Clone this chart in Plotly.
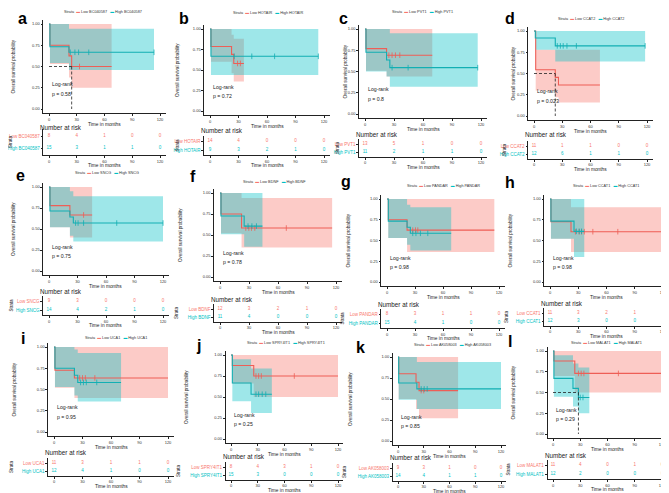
import plotly.graph_objects as go

# ---------------- data ----------------
LETTERS = ["a", "b", "c", "d", "e", "f", "g", "h", "i", "j", "k", "l"]
GENES = ["BC040587", "HOTAIR", "PVT1", "CCAT2", "SNCG", "BDNF", "PANDAR", "CCAT1",
         "UCA1", "SPRY4IT1", "AK058003", "MALAT1"]
PVALUES = ["0.58", "0.72", "0.8", "0.023", "0.75", "0.78", "0.98", "0.98",
           "0.95", "0.25", "0.85", "0.29"]
X_TICKS = [0, 30, 60, 90, 120]
Y_TICKS = [0, 0.25, 0.5, 0.75, 1.0]
Y_TICK_TEXT = ["0.00", "0.25", "0.50", "0.75", "1.00"]
RISK_TIMES = [0, 30, 60, 90, 120]

# a BC040587
a_low_time = [0, 1, 21.6, 24.5]; a_low_surv = [1, 0.75, 0.625, 0.5]
a_low_lower = [1, 0.53, 0.37, 0.25]; a_low_upper = [1, 1, 1, 1]
a_low_end = 67.7; a_low_censor = [33]
a_high_time = [0, 1, 21.6]; a_high_surv = [1, 0.733, 0.667]
a_high_lower = [1, 0.54, 0.46]; a_high_upper = [1, 1, 0.945]
a_high_end = 113.5; a_high_censor = [23, 28, 32, 43, 113.5]
a_low_risk = [8, 4, 1, 0, 0]; a_high_risk = [15, 3, 1, 1, 0]

# b HOTAIR
b_low_time = [0, 1, 22.7, 25]; b_low_surv = [1, 0.786, 0.69, 0.58]
b_low_lower = [1, 0.6, 0.46, 0.36]; b_low_upper = [1, 1, 0.93, 0.88]
b_low_end = 35.7; b_low_censor = [29, 32]
b_high_time = [0, 1]; b_high_surv = [1, 0.667]
b_high_lower = [1, 0.44]; b_high_upper = [1, 1]
b_high_end = 114; b_high_censor = [25.5, 44, 68, 114]
b_low_risk = [14, 4, 0, 0, 0]; b_high_risk = [9, 3, 2, 1, 0]

# c PVT1
c_low_time = [0, 1, 22.3]; c_low_surv = [1, 0.769, 0.692]
c_low_lower = [1, 0.51, 0.44]; c_low_upper = [1, 1, 1]
c_low_end = 69.6; c_low_censor = [24.7, 28, 31.5, 36]
c_high_time = [0, 1, 22.3, 25.7]; c_high_surv = [1, 0.727, 0.636, 0.545]
c_high_lower = [1, 0.5, 0.44, 0.32]; c_high_upper = [1, 1, 1, 0.95]
c_high_end = 116.6; c_high_censor = [28, 44.6, 116.6]
c_low_risk = [13, 5, 1, 0, 0]; c_high_risk = [11, 2, 1, 1, 0]

# d CCAT2
d_low_time = [0, 1.8, 22.6, 26]; d_low_surv = [1, 0.545, 0.454, 0.364]
d_low_lower = [1, 0.3, 0.22, 0.16]; d_low_upper = [1, 0.78, 0.78, 0.78]
d_low_end = 70; d_low_censor = []
d_high_time = [0, 1.4, 22.6]; d_high_surv = [1, 0.917, 0.825]
d_high_lower = [1, 0.78, 0.64]; d_high_upper = [1, 1, 1]
d_high_end = 118; d_high_censor = [24.7, 28, 31, 35, 45, 118]
d_low_risk = [11, 1, 1, 0, 0]; d_high_risk = [12, 6, 1, 1, 0]

# e SNCG
e_low_time = [0, 1, 22]; e_low_surv = [1, 0.778, 0.667]
e_low_lower = [1, 0.52, 0.40]; e_low_upper = [1, 1, 1]
e_low_end = 45.4; e_low_censor = [36.4]
e_high_time = [0, 1, 22, 25.6]; e_high_surv = [1, 0.714, 0.643, 0.571]
e_high_lower = [1, 0.52, 0.42, 0.35]; e_high_upper = [1, 1, 0.95, 0.89]
e_high_end = 120; e_high_censor = [28, 30.6, 36.4, 71.3, 120]
e_low_risk = [9, 3, 0, 0, 0]; e_high_risk = [14, 4, 2, 1, 0]

# f BDNF
f_low_time = [0, 1, 22.3]; f_low_surv = [1, 0.75, 0.583]
f_low_lower = [1, 0.52, 0.35]; f_low_upper = [1, 1, 0.94]
f_low_end = 116; f_low_censor = [26.7, 29.8, 32.6, 36, 68.6]
f_high_time = [0, 1, 25]; f_high_surv = [1, 0.727, 0.606]
f_high_lower = [1, 0.51, 0.36]; f_high_upper = [1, 1, 1]
f_high_end = 43.9; f_high_censor = [29, 33, 37.7]
f_low_risk = [12, 3, 2, 1, 0]; f_high_risk = [11, 4, 0, 0, 0]

# g PANDAR
g_low_time = [0, 1.4, 21.5]; g_low_surv = [1, 0.75, 0.625]
g_low_lower = [1, 0.53, 0.36]; g_low_upper = [1, 1, 1]
g_low_end = 115; g_low_censor = [27.6, 30.5, 33]
g_high_time = [0, 1.4, 21.5, 25]; g_high_surv = [1, 0.733, 0.66, 0.587]
g_high_lower = [1, 0.53, 0.45, 0.38]; g_high_upper = [1, 1, 0.93, 0.9]
g_high_end = 68.8; g_high_censor = [27.6, 31, 35.8, 43.7]
g_low_risk = [8, 3, 1, 1, 0]; g_high_risk = [15, 4, 1, 0, 0]

# h CCAT1
h_low_time = [0, 1, 22.3]; h_low_surv = [1, 0.727, 0.606]
h_low_lower = [1, 0.52, 0.36]; h_low_upper = [1, 1, 0.9]
h_low_end = 118; h_low_censor = [27, 31, 33.5, 36.4, 45.5, 72]
h_high_time = [0, 1, 25.5]; h_high_surv = [1, 0.733, 0.61]
h_high_lower = [1, 0.52, 0.3]; h_high_upper = [1, 1, 1]
h_high_end = 36.4; h_high_censor = [28, 31, 33.5]
h_low_risk = [11, 3, 2, 1, 0]; h_high_risk = [12, 3, 0, 0, 0]

# i UCA1
i_low_time = [0, 1, 21.5]; i_low_surv = [1, 0.727, 0.636]
i_low_lower = [1, 0.52, 0.4]; i_low_upper = [1, 1, 1]
i_low_end = 120; i_low_censor = [27, 30, 33, 43]
i_high_time = [0, 1, 21.5, 25]; i_high_surv = [1, 0.75, 0.667, 0.583]
i_high_lower = [1, 0.53, 0.43, 0.36]; i_high_upper = [1, 1, 0.97, 0.93]
i_high_end = 70.6; i_high_censor = [28, 31, 34, 45]
i_low_risk = [11, 3, 1, 1, 0]; i_high_risk = [12, 4, 1, 0, 0]

# j SPRY4IT1
j_low_time = [0, 1.5, 25.5]; j_low_surv = [1, 0.875, 0.75]
j_low_lower = [1, 0.66, 0.5]; j_low_upper = [1, 1, 1]
j_low_end = 120; j_low_censor = [28, 31, 34, 71]
j_high_time = [0, 1.5, 22.5]; j_high_surv = [1, 0.667, 0.533]
j_high_lower = [1, 0.45, 0.31]; j_high_upper = [1, 0.95, 0.84]
j_high_end = 45.8; j_high_censor = [28, 31, 35, 39]
j_low_risk = [8, 4, 3, 1, 0]; j_high_risk = [15, 3, 0, 0, 0]

# k AK058003
k_low_time = [0, 0.8, 21, 24.5]; k_low_surv = [1, 0.8, 0.7, 0.6]
k_low_lower = [1, 0.5, 0.38, 0.27]; k_low_upper = [1, 1, 1, 1]
k_low_end = 70; k_low_censor = [27, 30]
k_high_time = [0, 0.8, 22]; k_high_surv = [1, 0.69, 0.62]
k_high_lower = [1, 0.49, 0.38]; k_high_upper = [1, 1, 0.94]
k_high_end = 120; k_high_censor = [27, 30.5, 34]
k_low_risk = [9, 3, 1, 0, 0]; k_high_risk = [14, 4, 1, 1, 0]

# l MALAT1
l_low_time = [0, 1, 24]; l_low_surv = [1, 0.88, 0.73]
l_low_lower = [1, 0.7, 0.5]; l_low_upper = [1, 1, 1]
l_low_end = 120; l_low_censor = [28, 31, 34, 72]
l_high_time = [0, 1, 22, 28]; l_high_surv = [1, 0.67, 0.55, 0.44]
l_high_lower = [1, 0.45, 0.33, 0.25]; l_high_upper = [1, 0.95, 0.85, 0.8]
l_high_end = 40; l_high_censor = [30, 33]
l_low_risk = [11, 4, 0, 1, 0]; l_high_risk = [12, 2, 0, 0, 0]

G = globals()
DATA = {}
for L in LETTERS:
    DATA[L] = {}
    for grp in ("low", "high"):
        DATA[L][grp] = dict(t=G[f"{L}_{grp}_time"], s=G[f"{L}_{grp}_surv"],
                            lo=G[f"{L}_{grp}_lower"], hi=G[f"{L}_{grp}_upper"],
                            end=G[f"{L}_{grp}_end"], cens=G[f"{L}_{grp}_censor"],
                            risk=G[f"{L}_{grp}_risk"])

# ---------------- layout geometry (pixels) ----------------
GEOM = {
    "a": dict(letter=(14, 10), legend=(95, 4), x0=41, x120=152, y1=16, y0=101, ytitle=5, nar=119, low=128, high=140, strata=3),
    "b": dict(letter=(176, 10), legend=(260, 5), x0=202, x120=316, y1=21, y0=103, ytitle=170, nar=123, low=133, high=142, strata=169),
    "c": dict(letter=(335, 10), legend=(414, 4), x0=357, x120=473, y1=21, y0=106, ytitle=337, nar=127, low=136, high=144, strata=330),
    "d": dict(letter=(502, 10), legend=(583, 11), x0=526, x120=639, y1=23, y0=108, ytitle=505, nar=127, low=138, high=146, strata=496),
    "e": dict(letter=(13, 167), legend=(99, 165), x0=41, x120=155, y1=179, y0=263, ytitle=5, nar=283, low=293, high=302, strata=3),
    "f": dict(letter=(185, 168), legend=(266, 174), x0=212, x120=328, y1=185, y0=269, ytitle=172, nar=291, low=301, high=309, strata=168),
    "g": dict(letter=(338, 173), legend=(435, 178), x0=379, x120=491, y1=191, y0=274, ytitle=340, nar=296, low=306, high=315, strata=334),
    "h": dict(letter=(502, 175), legend=(598, 178), x0=542, x120=655, y1=191, y0=274, ytitle=502, nar=295, low=305, high=313, strata=498),
    "i": dict(letter=(15, 330), legend=(108, 330), x0=46, x120=160, y1=339, y0=424, ytitle=6, nar=444, low=455, high=463, strata=3),
    "j": dict(letter=(190, 337), legend=(278, 335), x0=223, x120=330, y1=347, y0=431, ytitle=178, nar=448, low=459, high=467, strata=170),
    "k": dict(letter=(352, 339), legend=(444, 337), x0=390, x120=493, y1=349, y0=433, ytitle=342, nar=449, low=460, high=468, strata=336),
    "l": dict(letter=(502, 333), legend=(598, 335), x0=545, x120=654, y1=343, y0=426, ytitle=505, nar=447, low=457, high=466, strata=500),
}

W, H = 669, 493
RED = "#F8766D"; TEAL = "#00BFC4"
RED_LINE = "#EE5E56"; TEAL_LINE = "#12AFB3"
RED_FILL = "rgba(248,118,109,0.38)"; TEAL_FILL = "rgba(0,191,196,0.38)"
FONT = "Liberation Sans, Arial, sans-serif"
AX = "#222222"


def fy(p):
    return 1 - p / H


def surv_at(t, s, time):
    v = s[0]
    for ti, si in zip(t, s):
        if ti <= time:
            v = si
    return v


fig = go.Figure()
layout = dict(width=W, height=H, margin=dict(l=0, r=0, t=0, b=0),
              paper_bgcolor="white", plot_bgcolor="white", showlegend=False,
              font=dict(family=FONT, color="#222"))
annotations = []
shapes = []


def ann(**kw):
    base = dict(xref="paper", yref="paper", showarrow=False, xanchor="center",
                yanchor="middle", borderpad=0)
    base.update(kw)
    annotations.append(base)


for idx, L in enumerate(LETTERS):
    g = GEOM[L]
    gene = GENES[idx]
    k1, k2 = 2 * idx + 1, 2 * idx + 2
    xa1, ya1 = ("xaxis" if k1 == 1 else f"xaxis{k1}"), ("yaxis" if k1 == 1 else f"yaxis{k1}")
    xa2, ya2 = f"xaxis{k2}", f"yaxis{k2}"
    xr1, yr1 = ("x" if k1 == 1 else f"x{k1}"), ("y" if k1 == 1 else f"y{k1}")
    xr2, yr2 = f"x{k2}", f"y{k2}"
    scale = (g["x120"] - g["x0"]) / 120.0
    left = g["x0"] - 6 * scale
    right = g["x120"] + 6 * scale
    hy = g["y0"] - g["y1"]
    top = g["y1"] - 0.05 * hy
    bot = g["y0"] + 0.05 * hy
    xdom = [left / W, right / W]

    common_x = dict(domain=xdom, range=[-6, 126], tickvals=X_TICKS, ticks="outside", ticklen=2,
                    tickwidth=0.6, tickcolor=AX, showline=True, linecolor=AX, linewidth=0.7,
                    showgrid=False, zeroline=False, tickfont=dict(size=4, color="#333"))
    layout[xa1] = dict(common_x, anchor=yr1)
    layout[ya1] = dict(domain=[fy(bot), fy(top)], range=[-0.05, 1.05], anchor=xr1,
                       tickvals=Y_TICKS, ticktext=Y_TICK_TEXT, ticks="outside", ticklen=2,
                       tickwidth=0.6, tickcolor=AX, showline=True, linecolor=AX, linewidth=0.7,
                       showgrid=False, zeroline=False, tickfont=dict(size=4, color="#333"))
    d = g["high"] - g["low"]
    rtop = g["low"] - 0.6 * d
    rbot = g["high"] + 0.6 * d
    layout[xa2] = dict(common_x, anchor=yr2)
    layout[ya2] = dict(domain=[fy(rbot), fy(rtop)], range=[0.4, 2.6], anchor=xr2,
                       tickvals=[1, 2],
                       ticktext=[f'<span style="color:{TEAL}">High {gene}</span>',
                                 f'<span style="color:{RED}">Low {gene}</span>'],
                       ticks="outside", ticklen=2, tickwidth=0.6, tickcolor=AX, showline=True,
                       linecolor=AX, linewidth=0.7, showgrid=False, zeroline=False,
                       tickfont=dict(size=4.5))

    # confidence bands (low first, high on top)
    for grp, fill in (("low", RED_FILL), ("high", TEAL_FILL)):
        dd = DATA[L][grp]
        xs = list(dd["t"]) + [dd["end"]]
        fig.add_trace(go.Scatter(x=xs, y=list(dd["lo"]) + [dd["lo"][-1]], mode="lines",
                                 line=dict(width=0, shape="hv"), xaxis=xr1, yaxis=yr1,
                                 hoverinfo="skip"))
        fig.add_trace(go.Scatter(x=xs, y=list(dd["hi"]) + [dd["hi"][-1]], mode="lines",
                                 line=dict(width=0, shape="hv"), fill="tonexty", fillcolor=fill,
                                 xaxis=xr1, yaxis=yr1, hoverinfo="skip"))
    # median lines
    for grp in ("low", "high"):
        dd = DATA[L][grp]
        med = None
        for ti, si in zip(dd["t"], dd["s"]):
            if si <= 0.5:
                med = ti
                break
        if med is not None:
            shapes.append(dict(type="line", xref=xr1, yref=yr1, x0=0, x1=med, y0=0.5, y1=0.5,
                               line=dict(color="#222", width=0.8, dash="3px,2px")))
            shapes.append(dict(type="line", xref=xr1, yref=yr1, x0=med, x1=med, y0=0.5, y1=0,
                               line=dict(color="#222", width=0.8, dash="3px,2px")))
    # survival lines and censor marks
    for grp, col in (("low", RED_LINE), ("high", TEAL_LINE)):
        dd = DATA[L][grp]
        fig.add_trace(go.Scatter(x=list(dd["t"]) + [dd["end"]], y=list(dd["s"]) + [dd["s"][-1]],
                                 mode="lines", line=dict(color=col, width=1.1, shape="hv"),
                                 xaxis=xr1, yaxis=yr1))
        if dd["cens"]:
            fig.add_trace(go.Scatter(x=dd["cens"], y=[surv_at(dd["t"], dd["s"], c) for c in dd["cens"]],
                                     mode="markers", marker=dict(symbol="line-ns", size=4,
                                                                 line=dict(color=col, width=0.8)),
                                     xaxis=xr1, yaxis=yr1))
    # risk table
    for grp, yv, col in (("low", 2, RED), ("high", 1, TEAL)):
        dd = DATA[L][grp]
        fig.add_trace(go.Scatter(x=RISK_TIMES, y=[yv] * len(RISK_TIMES), mode="text",
                                 text=[str(v) for v in dd["risk"]],
                                 textfont=dict(size=4.5, color=col), xaxis=xr2, yaxis=yr2))

    # annotations
    ann(text=f"<b>{L}</b>", x=g["letter"][0] / W, y=fy(g["letter"][1]),
        font=dict(size=16, color="black"))
    ann(text=(f'Strata  <span style="color:{RED}">▬</span> Low {gene}   '
              f'<span style="color:{TEAL}">▬</span> High {gene}'),
        x=g["legend"][0] / W, y=fy(g["legend"][1]), font=dict(size=3.8, color="#333"))
    ann(text="Overall survival probability", textangle=-90, x=g["ytitle"] / W,
        y=fy((g["y1"] + g["y0"]) / 2), font=dict(size=4.6, color="#222"))
    ann(text="Time in months", x=(g["x0"] + g["x120"]) / 2 / W, y=fy(bot + 11),
        font=dict(size=4.8, color="#222"))
    ann(text="Time in months", x=(g["x0"] + g["x120"]) / 2 / W, y=fy(rbot + 10.5),
        font=dict(size=4.8, color="#222"))
    ann(text="Number at risk", x=(left - 4) / W, y=fy(g["nar"]), xanchor="left",
        font=dict(size=6.3, color="#222"))
    ann(text="Strata", textangle=-90, x=g["strata"] / W, y=fy((g["low"] + g["high"]) / 2),
        font=dict(size=4.5, color="#222"))
    ann(text="Log-rank", x=2, y=0.29, xref=xr1, yref=yr1, xanchor="left",
        font=dict(size=5.2, color="#222"))
    ann(text=f"p = {PVALUES[idx]}", x=2, y=0.18, xref=xr1, yref=yr1, xanchor="left",
        font=dict(size=5.2, color="#222"))

layout["annotations"] = annotations
layout["shapes"] = shapes
fig.update_layout(**layout)
fig.write_html("out.html")
